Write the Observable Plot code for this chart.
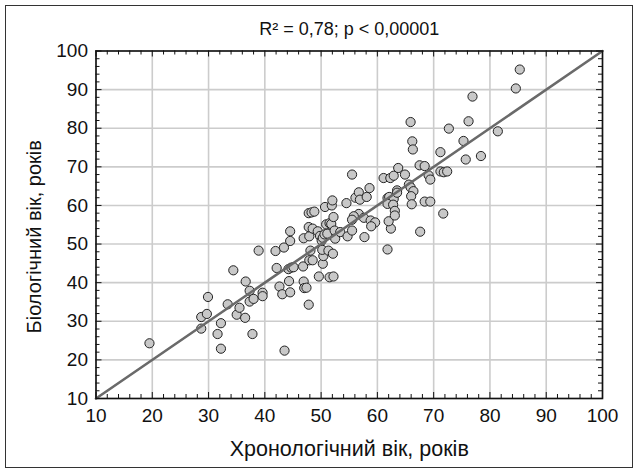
<!DOCTYPE html>
<html><head><meta charset="utf-8">
<script src="https://cdn.jsdelivr.net/npm/d3@7"></script>
<script src="https://cdn.jsdelivr.net/npm/@observablehq/plot@0.6"></script>
<style>
body{margin:0;background:#fff;}
#wrap{position:relative;width:638px;height:473px;}
#border{position:absolute;left:5px;top:5px;width:626px;height:461px;border:1.5px solid #333;pointer-events:none;}
</style></head><body>
<div id="wrap"><div id="chart"></div><div id="border"></div></div>
<script>
// Chronological age (x) and biological age (y), years
const chronoAge = [
19.5,28.7,28.7,29.7,29.9,31.6,32.2,32.2,33.4,34.4,35.0,35.5,36.5,36.6,37.3,37.3,37.8,38.0,38.9,39.6,39.6,
42.1,42.6,43.1,43.5,44.2,44.3,44.5,44.7,45.1,46.8,46.9,47.0,47.4,47.8,47.9,48.5,49.6,50.3,50.4,51.5,52.2,
41.9,43.4,44.5,44.5,46.9,47.9,47.8,48.5,47.8,48.3,48.8,49.4,49.8,50.1,50.3,50.7,50.6,51.1,50.9,51.5,51.8,52.2,51.9,52.0,52.4,52.5,48.1,50.2,51.3,52.1,53.4,54.5,54.7,
55.5,56.1,56.7,56.9,58.1,58.6,56.7,55.8,55.5,57.6,55.5,58.8,59.6,58.9,62.4,62.0,57.7,61.8,61.1,62.3,62.9,63.7,64.9,61.8,62.1,62.9,61.8,62.8,63.1,63.1,63.5,63.5,65.6,65.9,66.4,66.0,66.1,67.5,68.4,69.1,69.4,68.4,69.4,67.6,71.2,71.2,71.8,72.4,71.7,
65.9,66.2,66.3,72.7,75.3,75.7,76.2,76.9,78.4,81.4,84.6,85.3
];
const bioAge = [
24.3,28.1,31.1,31.9,36.3,26.7,22.9,29.5,34.4,43.2,31.7,33.5,30.9,40.3,37.9,35.1,26.7,35.8,48.3,37.4,36.5,
43.8,39.0,37.0,22.4,43.5,40.4,37.5,43.9,44.0,44.2,40.3,38.6,38.7,34.3,45.8,45.8,41.6,44.9,46.9,41.4,41.6,
48.2,49.1,53.3,50.8,51.5,52.0,54.4,54.0,58.0,58.2,58.4,53.3,52.1,50.9,51.6,59.6,52.5,52.7,55.1,55.4,55.2,57.0,60.0,61.3,53.5,51.4,48.3,48.5,48.3,47.5,53.1,60.6,52.0,
68.0,62.0,63.4,61.5,62.2,64.5,57.8,57.2,56.3,56.8,53.5,56.1,55.6,54.6,54.0,55.9,51.8,48.6,67.1,67.1,67.7,69.7,68.0,61.9,62.2,61.7,60.4,60.2,58.6,57.4,63.9,63.3,65.4,64.7,63.7,62.4,60.3,70.4,70.2,67.8,66.7,61.0,61.0,53.2,73.8,68.8,68.6,68.8,57.9,
81.6,76.6,74.5,79.9,76.7,71.9,81.8,88.2,72.8,79.2,90.3,95.2
];
// Fitted line endpoints
const fitX = [10, 100];
const fitY = [10, 100];
// Tick values
const xTicks = [10,20,30,40,50,60,70,80,90,100];
const yTicks = [10,20,30,40,50,60,70,80,90,100];
const minorTicks = [12,14,16,18,22,24,26,28,32,34,36,38,42,44,46,48,52,54,56,58,62,64,66,68,72,74,76,78,82,84,86,88,92,94,96,98];
const titleText = "R² = 0,78; p < 0,00001";
const xLabel = "Хронологічний вік, років";
const yLabel = "Біологічний вік, років";

const W = 638, H = 473, mL = 95.5, mR = 36, mT = 50.5, mB = 75;
const pw = W - mL - mR, ph = H - mT - mB;
const pts = chronoAge.map((x, i) => ({x, y: bioAge[i]}));
const fit = fitX.map((x, i) => ({x, y: fitY[i]}));
const FONT = "'Liberation Sans', Arial, sans-serif";
const fs = 19, xLabelFs = 21.5, yLabelFs = 20, titleFs = 18;
const minorLen = 4, majorLen = 6;
const tickStyle = {stroke: "#111", strokeWidth: 1};

const chart = Plot.plot({
  width: W, height: H,
  marginLeft: mL, marginRight: mR, marginTop: mT, marginBottom: mB,
  style: {fontFamily: FONT, fontSize: fs + "px", color: "#111", background: "#fff"},
  x: {domain: [10, 100]},
  y: {domain: [10, 100]},
  marks: [
    Plot.gridX(xTicks, {stroke: "#cccccc", strokeOpacity: 1, strokeWidth: 1.6}),
    Plot.gridY(yTicks, {stroke: "#cccccc", strokeOpacity: 1, strokeWidth: 1.6}),
    // inner ticks: bottom & top
    Plot.ruleX(minorTicks, {x: d => d, insetTop: ph - minorLen, ...tickStyle}),
    Plot.ruleX(minorTicks, {x: d => d, insetBottom: ph - minorLen, ...tickStyle}),
    Plot.ruleX(xTicks, {x: d => d, insetTop: ph - majorLen, ...tickStyle}),
    Plot.ruleX(xTicks, {x: d => d, insetBottom: ph - majorLen, ...tickStyle}),
    // inner ticks: left & right
    Plot.ruleY(minorTicks, {y: d => d, insetRight: pw - minorLen, ...tickStyle}),
    Plot.ruleY(minorTicks, {y: d => d, insetLeft: pw - minorLen, ...tickStyle}),
    Plot.ruleY(yTicks, {y: d => d, insetRight: pw - majorLen, ...tickStyle}),
    Plot.ruleY(yTicks, {y: d => d, insetLeft: pw - majorLen, ...tickStyle}),
    Plot.dot(pts, {x: "x", y: "y", r: 4.6, fill: "#c8c8c8", stroke: "#222", strokeWidth: 1}),
    Plot.line(fit, {x: "x", y: "y", stroke: "#6a6a6a", strokeWidth: 2.6}),
    Plot.frame({stroke: "#111", strokeWidth: 1.6}),
    Plot.axisX(xTicks, {tickSize: 0, tickPadding: 10, label: null, fontSize: fs, fill: "#111"}),
    Plot.axisY(yTicks, {tickSize: 0, tickPadding: 8, label: null, fontSize: fs, fill: "#111"}),
    Plot.text([titleText], {frameAnchor: "top", lineAnchor: "middle", textAnchor: "middle", dy: -21.5, fontSize: titleFs, fill: "#111"}),
    Plot.text([xLabel], {frameAnchor: "bottom", lineAnchor: "middle", textAnchor: "middle", dy: 51, fontSize: xLabelFs, fill: "#111"}),
    Plot.text([yLabel], {frameAnchor: "left", lineAnchor: "middle", textAnchor: "middle", dx: -61, dy: 12, rotate: -90, fontSize: yLabelFs, fill: "#111"})
  ]
});
document.getElementById("chart").appendChild(chart);
</script>
</body></html>
